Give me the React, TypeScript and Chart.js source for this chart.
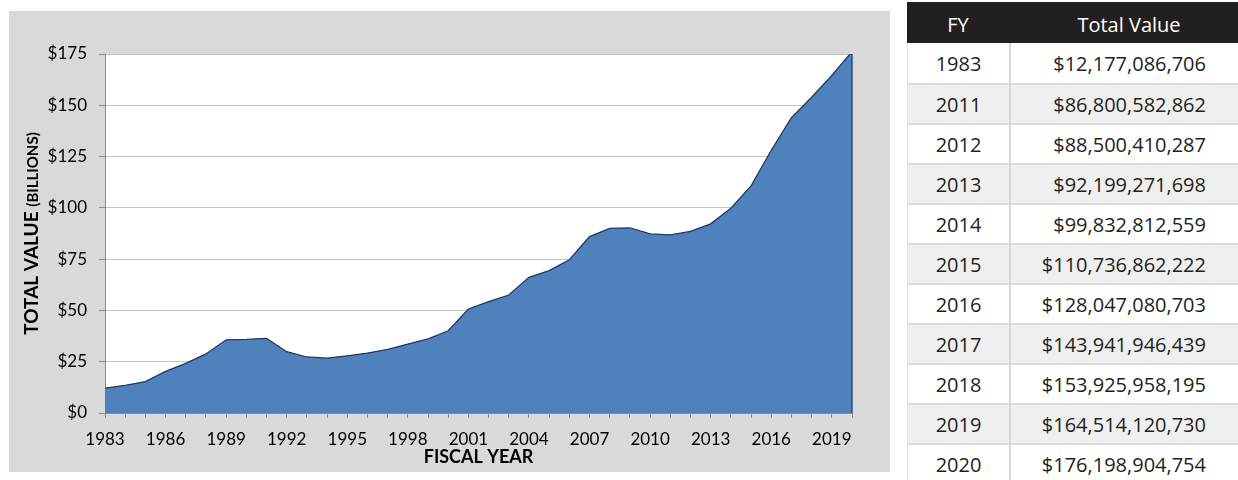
import React, { useEffect, useRef } from "react";
import { Chart, registerables } from "chart.js";

Chart.register(...registerables);

// ---- Data ----
const years = [
  "1983", "1984", "1985", "1986", "1987", "1988", "1989", "1990", "1991", "1992",
  "1993", "1994", "1995", "1996", "1997", "1998", "1999", "2000", "2001", "2002",
  "2003", "2004", "2005", "2006", "2007", "2008", "2009", "2010", "2011", "2012",
  "2013", "2014", "2015", "2016", "2017", "2018", "2019", "2020",
];

// Total value in billions of dollars
const totalValueBillions = [
  12.18, 13.5, 15.3, 20.3, 24.2, 28.8, 35.7, 35.9, 36.4, 29.9,
  27.3, 26.8, 27.9, 29.2, 31.0, 33.6, 36.1, 40.1, 50.7, 54.3,
  57.5, 66.1, 69.4, 74.7, 86.0, 90.0, 90.3, 87.3, 86.8, 88.5,
  92.2, 99.83, 110.74, 128.05, 143.94, 153.93, 164.51, 176.2,
];

const xTickLabels = [
  "1983", "1986", "1989", "1992", "1995", "1998", "2001", "2004", "2007",
  "2010", "2013", "2016", "2019",
];
const yTickValues = [0, 25, 50, 75, 100, 125, 150, 175];

const yTitleMain = "TOTAL VALUE ";
const yTitleSub = "(BILLIONS)";
const xTitle = "FISCAL YEAR";

const tableHeaders = ["FY", "Total Value"];
const tableYears = [
  "1983", "2011", "2012", "2013", "2014", "2015", "2016", "2017", "2018", "2019", "2020",
];
const tableValues = [
  "$12,177,086,706", "$86,800,582,862", "$88,500,410,287", "$92,199,271,698",
  "$99,832,812,559", "$110,736,862,222", "$128,047,080,703", "$143,941,946,439",
  "$153,925,958,195", "$164,514,120,730", "$176,198,904,754",
];

const CANVAS_W = 881;
const CANVAS_H = 461;
const FONT = "Lato, sans-serif";

export default function App() {
  const canvasRef = useRef<HTMLCanvasElement | null>(null);

  useEffect(() => {
    const canvas = canvasRef.current;
    if (!canvas) return;

    const plotBg = {
      id: "plotBg",
      beforeDraw(chart: any) {
        const { ctx, chartArea: a } = chart;
        ctx.save();
        ctx.fillStyle = "#ffffff";
        ctx.fillRect(a.left, a.top, a.right - a.left, a.bottom - a.top);
        ctx.restore();
      },
    };

    const areaEdge = {
      id: "areaEdge",
      afterDatasetsDraw(chart: any) {
        const meta = chart.getDatasetMeta(0);
        const last = meta.data[meta.data.length - 1];
        if (!last) return;
        const { ctx, chartArea: a } = chart;
        ctx.save();
        ctx.strokeStyle = "#1f3864";
        ctx.lineWidth = 1.25;
        ctx.beginPath();
        ctx.moveTo(last.x, Math.max(a.top, last.y));
        ctx.lineTo(last.x, a.bottom);
        ctx.stroke();
        ctx.restore();
      },
    };

    const axisTitles = {
      id: "axisTitles",
      afterDraw(chart: any) {
        const { ctx, chartArea: a } = chart;
        ctx.save();
        ctx.fillStyle = "#000000";
        ctx.textBaseline = "alphabetic";
        // X title
        ctx.font = `bold 18px ${FONT}`;
        ctx.textAlign = "center";
        ctx.fillText(xTitle, (a.left + a.right) / 2, 452);
        // Y title (two sizes)
        ctx.font = `bold 19px ${FONT}`;
        const w1 = ctx.measureText(yTitleMain).width;
        ctx.font = `bold 15px ${FONT}`;
        const w2 = ctx.measureText(yTitleSub).width;
        ctx.translate(29, (a.top + a.bottom) / 2);
        ctx.rotate(-Math.PI / 2);
        ctx.textAlign = "left";
        const start = -(w1 + w2) / 2;
        ctx.font = `bold 19px ${FONT}`;
        ctx.fillText(yTitleMain, start, 0);
        ctx.font = `bold 15px ${FONT}`;
        ctx.fillText(yTitleSub, start + w1, 0);
        ctx.restore();
      },
    };

    const chart = new Chart(canvas, {
      type: "line",
      data: {
        labels: years,
        datasets: [
          {
            label: "Total Value",
            data: totalValueBillions,
            fill: "origin",
            backgroundColor: "#4f81bd",
            borderColor: "#1f3864",
            borderWidth: 1.25,
            pointRadius: 0,
            pointHoverRadius: 0,
            tension: 0,
          },
        ],
      },
      options: {
        responsive: false,
        animation: false,
        devicePixelRatio: 1,
        layout: { padding: { top: 43, right: 38, left: 0, bottom: 0 } },
        plugins: {
          legend: { display: false },
          tooltip: { enabled: false },
          title: { display: false },
        },
        scales: {
          x: {
            type: "category",
            offset: false,
            grid: {
              display: true,
              drawOnChartArea: false,
              drawTicks: true,
              tickLength: 5,
              tickColor: "#8c8c8c",
            },
            border: { display: true, color: "#8c8c8c", width: 1 },
            ticks: {
              autoSkip: false,
              maxRotation: 0,
              minRotation: 0,
              padding: 11,
              color: "#000000",
              font: { family: FONT, size: 17 },
              callback: function (this: any, value: any, index: number) {
                const lbl = years[index];
                return xTickLabels.includes(lbl) ? lbl : "";
              },
            },
            afterFit(scale: any) {
              scale.height = 59;
            },
          },
          y: {
            type: "linear",
            min: yTickValues[0],
            max: yTickValues[yTickValues.length - 1],
            grid: {
              color: "#c4c4c4",
              lineWidth: 1,
              drawTicks: true,
              tickLength: 6,
              tickColor: "#8c8c8c",
            },
            border: { display: true, color: "#8c8c8c", width: 1 },
            ticks: {
              stepSize: yTickValues[1] - yTickValues[0],
              padding: 12,
              color: "#000000",
              font: { family: FONT, size: 17 },
              callback: (v: any) => "$" + v,
            },
            afterFit(scale: any) {
              scale.width = 96;
            },
          },
        },
      },
      plugins: [plotBg, areaEdge, axisTitles],
    } as any);

    return () => {
      chart.destroy();
    };
  }, []);

  const rowH = 40;

  return (
    <div
      style={{
        position: "absolute",
        left: 0,
        top: 0,
        width: 1238,
        height: 480,
        overflow: "hidden",
        background: "#ffffff",
      }}
    >
      <div
        style={{
          position: "absolute",
          left: 9,
          top: 11,
          width: CANVAS_W,
          height: CANVAS_H,
          background: "#d9d9d9",
        }}
      >
        <canvas
          ref={canvasRef}
          width={CANVAS_W}
          height={CANVAS_H}
          style={{ display: "block", width: CANVAS_W, height: CANVAS_H }}
        />
      </div>

      <div
        style={{
          position: "absolute",
          left: 907,
          top: 2,
          width: 340,
          fontFamily: '"Open Sans", sans-serif',
          fontSize: 20,
          color: "#231f20",
        }}
      >
        <div
          style={{
            display: "flex",
            height: 41,
            background: "#231f20",
            color: "#ffffff",
            alignItems: "center",
          }}
        >
          <div style={{ width: 102, textAlign: "center", paddingTop: 3 }}>{tableHeaders[0]}</div>
          <div style={{ flex: 1, textAlign: "center", paddingTop: 3, paddingLeft: 2 }}>
            {tableHeaders[1]}
          </div>
        </div>
        {tableYears.map((fy, i) => (
          <div
            key={fy}
            style={{
              display: "flex",
              height: rowH,
              boxSizing: "border-box",
              borderTop: i === 0 ? "none" : "2px solid #dcdcdc",
              borderLeft: "1px solid #e2e2e2",
              background: i % 2 === 1 ? "#f0efef" : "#ffffff",
            }}
          >
            <div
              style={{
                width: 101,
                display: "flex",
                alignItems: "center",
                justifyContent: "center",
              }}
            >
              {fy}
            </div>
            <div
              style={{
                flex: 1,
                display: "flex",
                alignItems: "center",
                justifyContent: "flex-end",
                paddingRight: 41,
                borderLeft: "2px solid #d6d6d6",
              }}
            >
              {tableValues[i]}
            </div>
          </div>
        ))}
      </div>
    </div>
  );
}
